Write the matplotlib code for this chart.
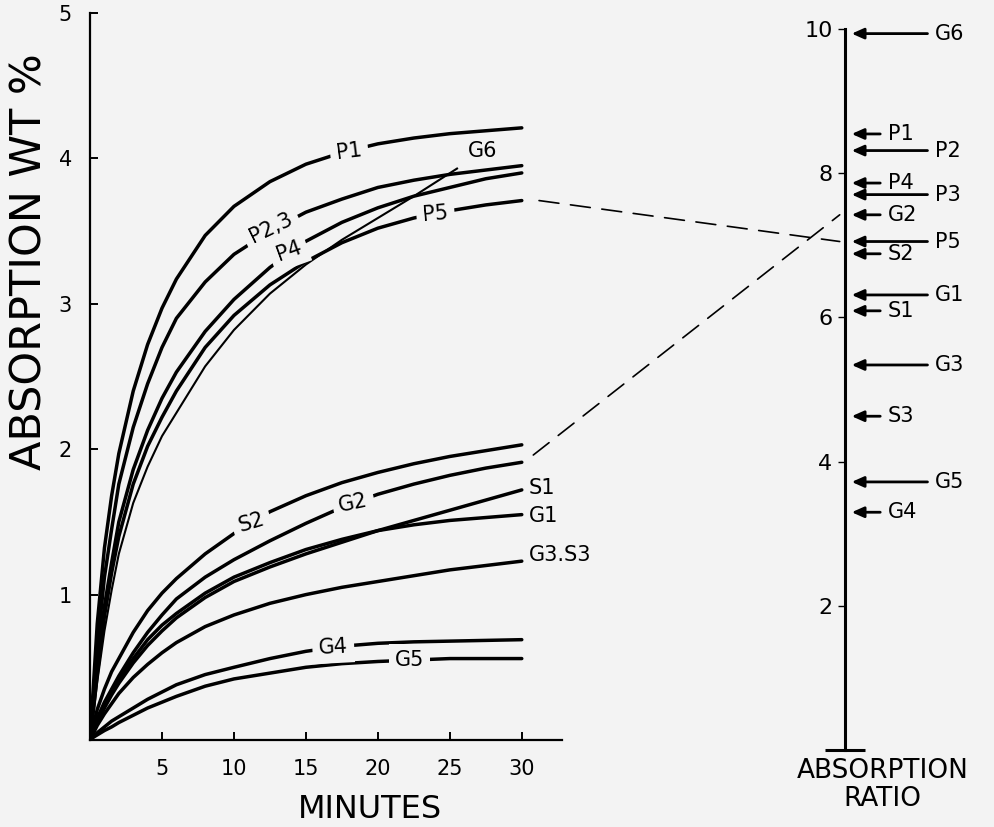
import matplotlib
matplotlib.use('Agg')
import matplotlib.pyplot as plt
from matplotlib.patches import ConnectionPatch

# ---- data ----
# absorption (wt %) against minutes
minutes = [0, 0.25, 0.5, 1, 1.5, 2, 3, 4, 5, 6, 8, 10, 12.5, 15, 17.5, 20, 22.5, 25, 27.5, 30]

p1  = [0, 0.40, 0.80, 1.32, 1.68, 1.97, 2.40, 2.72, 2.97, 3.17, 3.47, 3.67, 3.84, 3.96, 4.04, 4.10, 4.14, 4.17, 4.19, 4.21]
p23 = [0, 0.32, 0.63, 1.12, 1.45, 1.76, 2.15, 2.45, 2.70, 2.90, 3.15, 3.34, 3.50, 3.63, 3.72, 3.80, 3.85, 3.89, 3.92, 3.95]
p4  = [0, 0.26, 0.53, 0.92, 1.22, 1.50, 1.86, 2.13, 2.35, 2.53, 2.81, 3.03, 3.25, 3.43, 3.56, 3.66, 3.74, 3.80, 3.86, 3.90]
p5  = [0, 0.22, 0.45, 0.85, 1.15, 1.40, 1.76, 2.02, 2.22, 2.40, 2.70, 2.92, 3.13, 3.29, 3.42, 3.52, 3.59, 3.64, 3.68, 3.71]
s2  = [0, 0.11, 0.21, 0.35, 0.47, 0.56, 0.74, 0.89, 1.01, 1.11, 1.28, 1.42, 1.57, 1.68, 1.77, 1.84, 1.90, 1.95, 1.99, 2.03]
g2  = [0, 0.08, 0.15, 0.26, 0.35, 0.44, 0.60, 0.74, 0.86, 0.97, 1.12, 1.24, 1.37, 1.49, 1.60, 1.69, 1.76, 1.82, 1.87, 1.91]
s1  = [0, 0.06, 0.12, 0.22, 0.31, 0.39, 0.53, 0.65, 0.75, 0.84, 0.98, 1.09, 1.19, 1.28, 1.36, 1.44, 1.51, 1.58, 1.65, 1.72]
g1  = [0, 0.07, 0.13, 0.24, 0.33, 0.42, 0.56, 0.69, 0.79, 0.87, 1.01, 1.12, 1.22, 1.31, 1.38, 1.44, 1.48, 1.51, 1.53, 1.55]
g3s3 = [0, 0.05, 0.10, 0.18, 0.25, 0.32, 0.43, 0.52, 0.60, 0.67, 0.78, 0.86, 0.94, 1.00, 1.05, 1.09, 1.13, 1.17, 1.20, 1.23]
g4  = [0, 0.025, 0.05, 0.09, 0.13, 0.16, 0.22, 0.28, 0.33, 0.38, 0.45, 0.50, 0.56, 0.61, 0.645, 0.665, 0.675, 0.68, 0.685, 0.69]
g5  = [0, 0.02, 0.035, 0.065, 0.09, 0.12, 0.17, 0.22, 0.26, 0.30, 0.37, 0.42, 0.46, 0.50, 0.525, 0.54, 0.55, 0.56, 0.56, 0.56]

# G6 stops short of 30 min
g6_minutes = [0, 0.25, 0.5, 1, 1.5, 2, 3, 4, 5, 6, 8, 10, 12.5, 15, 17.5, 20, 22.5, 25.5]
g6 = [0, 0.19, 0.40, 0.75, 1.03, 1.28, 1.63, 1.88, 2.09, 2.25, 2.57, 2.82, 3.07, 3.27, 3.44, 3.59, 3.74, 3.93]

# absorption ratio scale on the right
ratio_names  = ['G6', 'P1', 'P2', 'P4', 'P3', 'G2', 'P5', 'S2', 'G1', 'S1', 'G3', 'S3', 'G5', 'G4']
ratio_values = [9.93, 8.54, 8.31, 7.86, 7.70, 7.42, 7.05, 6.88, 6.31, 6.09, 5.34, 4.63, 3.72, 3.30]

# curve labels: text, minute, wt %, angle
curve_labels = [
    ('P1', 18.0, 4.05, 7),
    ('P2,3', 12.6, 3.52, 26),
    ('P4', 13.8, 3.36, 20),
    ('P5', 24.0, 3.62, 5),
    ('S2', 11.2, 1.50, 17),
    ('G2', 18.3, 1.63, 12),
    ('G4', 16.9, 0.64, 3),
    ('G5', 22.2, 0.55, 0),
]
end_labels = [('G6', 27.3, 4.05), ('S1', 30.5, 1.73), ('G1', 30.5, 1.54), ('G3.S3', 30.5, 1.27)]

bg = '#f3f3f3'
plt.rcParams['font.family'] = ['DejaVu Sans']

fig = plt.figure(figsize=(9.95, 8.27), dpi=100, facecolor=bg)

# ---- left panel: absorption vs time ----
ax = fig.add_axes([0.0905, 0.1052, 0.4744, 0.8791], facecolor=bg)
for ys in [p1, p23, p4, p5, s2, g2, s1, g1, g3s3, g4, g5]:
    ax.plot(minutes, ys, color='black', lw=2.5, solid_capstyle='round', zorder=2)
ax.plot(g6_minutes, g6, color='black', lw=1.5, zorder=2)

for txt, x, y, rot in curve_labels:
    ax.text(x, y, txt, fontsize=15, ha='center', va='center', rotation=rot,
            rotation_mode='anchor', zorder=3,
            bbox=dict(boxstyle='square,pad=0.3', fc=bg, ec='none'))
for txt, x, y in end_labels:
    ax.text(x, y, txt, fontsize=15, ha='center' if txt == 'G6' else 'left', va='center', zorder=3)

ax.set_xlim(0, 32.8)
ax.set_ylim(0, 5)
ax.set_xticks([5, 10, 15, 20, 25, 30])
ax.set_yticks([1, 2, 3, 4, 5])
for side in ['top', 'right']:
    ax.spines[side].set_visible(False)
for side in ['left', 'bottom']:
    ax.spines[side].set_linewidth(1.6)
ax.tick_params(direction='in', length=6, width=1.4, labelsize=15)
ax.tick_params(axis='x', pad=14)
ax.tick_params(axis='y', pad=13)

fig.text(0.030, 0.684, 'ABSORPTION WT %', rotation=90, fontsize=31,
         ha='center', va='center')
fig.text(0.372, 0.003, 'MINUTES', fontsize=23, ha='center', va='bottom')

# ---- right panel: absorption ratio ----
ax2 = fig.add_axes([0.8492, 0.0838, 0.1508, 0.8904], facecolor='none')
ax2.set_xlim(0, 1)
ax2.set_ylim(-0.1, 10.1)
for side in ['top', 'right', 'bottom']:
    ax2.spines[side].set_visible(False)
ax2.spines['left'].set_linewidth(2.2)
ax2.spines['left'].set_bounds(0, 10)
ax2.set_xticks([])
ax2.set_yticks([2, 4, 6, 8, 10])
ax2.set_yticks([0], minor=True)
ax2.tick_params(axis='y', which='major', direction='out', length=5, width=1, labelsize=16, pad=4)
ax2.tick_params(axis='y', which='minor', direction='inout', length=29, width=2.2)

long_arrows = {'G6', 'P2', 'P3', 'P5', 'G1', 'G3', 'G5'}
trans = ax2.get_yaxis_transform()
for name, val in zip(ratio_names, ratio_values):
    tail = 0.55 if name in long_arrows else 0.235
    ax2.annotate('', xy=(0.045, val), xytext=(tail, val), xycoords=trans, textcoords=trans,
                 arrowprops=dict(arrowstyle='-|>,head_length=0.45,head_width=0.2',
                                 color='black', lw=2, shrinkA=0, shrinkB=0,
                                 mutation_scale=16))
    ax2.text(tail + 0.05, val, name, transform=trans, fontsize=15, ha='left', va='center')

fig.text(0.887, 0.083, 'ABSORPTION\nRATIO', fontsize=19, ha='center', va='top',
         linespacing=1.1)

# dashed links from the curves to the ratio scale
p5_ratio = ratio_values[ratio_names.index('P5')]
g2_ratio = ratio_values[ratio_names.index('G2')]
for xy_a, r in [((31.2, p5[-1]), p5_ratio), ((30.8, 1.96), g2_ratio)]:
    con = ConnectionPatch(xyA=xy_a, coordsA=ax.transData,
                          xyB=(-0.035, r), coordsB=trans,
                          color='black', lw=1.2, ls=(0, (12, 7)))
    fig.add_artist(con)

fig.savefig('out.png', dpi=100, facecolor=bg)
